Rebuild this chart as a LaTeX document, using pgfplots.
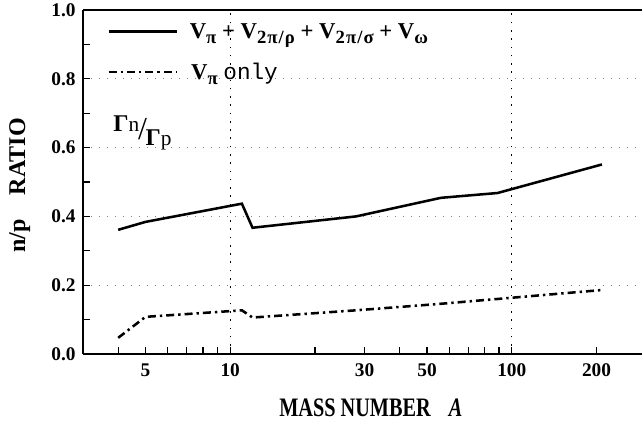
\documentclass[border=0pt]{standalone}
\usepackage{pgfplots}
\pgfplotsset{compat=1.18}
\usepackage{fontspec}
\setmainfont{Liberation Serif}
\newfontfamily\monof{Liberation Mono}
\newcommand{\sbs}[1]{\raisebox{-0.5ex}{\fontsize{14}{14}\selectfont #1}}
\begin{document}
\begin{tikzpicture}
\useasboundingbox (-62.25pt,-55.5pt) rectangle (419.25pt,265.5pt);
\begin{axis}[
  scale only axis, width=419.25pt, height=258pt,
  at={(0pt,0pt)}, anchor=south west,
  xmode=log, xmin=3, xmax=290, ymin=0, ymax=1,
  axis x line*=box, axis y line*=left,
  axis line style={line width=1.1pt},
  xtick pos=bottom, ytick pos=left,
  tick align=inside,
  major tick length=5pt, minor tick length=5pt,
  every tick/.style={black, line width=1pt},
  xtick={10,100}, xticklabels={10,100},
  extra x ticks={5,30,50,200}, extra x tick labels={5,30,50,200},
  extra x tick style={grid=none},
  minor xtick={4,6,7,8,9,20,40,60,70,80,90},
  ytick={0,0.2,0.4,0.6,0.8,1.0}, minor y tick num=1,
  /pgf/number format/fixed, /pgf/number format/fixed zerofill,
  /pgf/number format/precision=1, /pgf/number format/assume math mode=true,
  xmajorgrids, ymajorgrids,
  x grid style={black, line width=0.7pt, dash pattern=on 1.2pt off 5pt},
  y grid style={gray, line width=0.7pt, dash pattern=on 0.8pt off 5.2pt},
  tick label style={font=\bfseries\fontsize{14.5}{16}\selectfont},
  xticklabel style={yshift=-4pt},
  yticklabel style={xshift=-2pt},
  xlabel={\scalebox{0.76}[1]{MASS NUMBER\hspace{0.9em}\textit{A}}},
  xlabel style={font=\bfseries\fontsize{20}{22}\selectfont, at={(axis description cs:0.515,-0.157)}, anchor=center},
  ylabel={n/p\quad RATIO},
  ylabel style={font=\bfseries\fontsize{18}{20}\selectfont, at={(axis description cs:-0.113,0.49)}, anchor=center},
  legend style={at={(axis description cs:0.043,0.97)}, anchor=north west, draw=none, fill=none,
    font=\bfseries\fontsize{17}{19}\selectfont, row sep=13pt, inner sep=0pt},
  legend cell align=left,
  legend image code/.code={\draw[#1] (0pt,0pt) -- (51pt,0pt);},
]
\addplot[black, line width=1.9pt] coordinates {(4,0.361)(5,0.384)(11,0.437)(12,0.367)(28,0.400)(56,0.454)(89,0.468)(209,0.551)};
\addlegendentry{\hspace{7pt}V\sbs{π}\ + V\sbs{2\kern0.8pt π\kern0.8pt/\kern0.8pt ρ}\ + V\sbs{2\kern0.8pt π\kern0.8pt/\kern0.8pt σ}\ + V\sbs{ω}}
\addplot[black, line width=1.9pt, dash pattern=on 6pt off 3pt on 1.8pt off 3pt] coordinates {(4,0.047)(5,0.108)(11,0.127)(12,0.106)(28,0.127)(56,0.146)(89,0.160)(209,0.186)};
\addlegendentry{\hspace{8pt}V\sbs{π} {\mdseries\monof only}}
\node[font=\fontsize{18}{20}\selectfont, anchor=west, inner sep=0pt] at (axis cs:3.84,0.643) {\raisebox{5pt}{\textbf{Γ}{\fontsize{16}{16}\selectfont n}}\kern-1pt\raisebox{-1pt}{\fontsize{24}{24}\selectfont /}\kern-1pt\raisebox{-6pt}{\textbf{Γ}{\fontsize{16}{16}\selectfont p}}};
\end{axis}
\end{tikzpicture}
\end{document}
